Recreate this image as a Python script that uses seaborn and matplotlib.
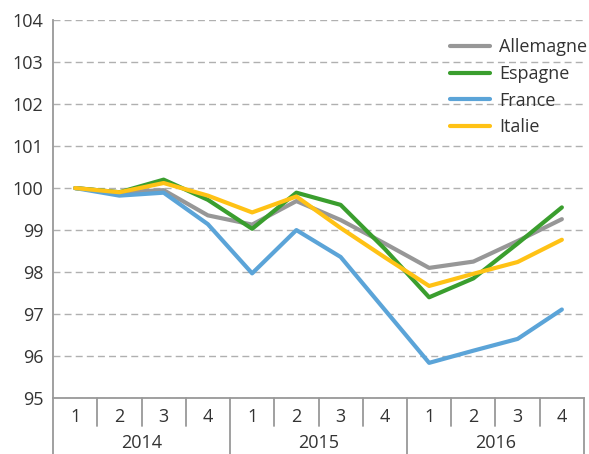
import pandas as pd
import matplotlib
matplotlib.use("Agg")
import matplotlib.pyplot as plt
import matplotlib.transforms as mtransforms
import seaborn as sns

# données (indice 100 = 2014T1)
years = ["2014", "2015", "2016"]
quarters = ["1", "2", "3", "4"]
allemagne = [100.0, 99.9, 99.95, 99.35, 99.13, 99.69, 99.24, 98.68, 98.1, 98.25, 98.74, 99.26]
espagne = [100.0, 99.9, 100.2, 99.72, 99.03, 99.89, 99.6, 98.55, 97.4, 97.85, 98.68, 99.54]
france = [100.0, 99.82, 99.89, 99.14, 97.97, 99.0, 98.36, 97.1, 95.84, 96.13, 96.41, 97.11]
italie = [100.0, 99.9, 100.12, 99.82, 99.42, 99.8, 99.05, 98.35, 97.67, 97.96, 98.24, 98.77]

series = {"Allemagne": allemagne, "Espagne": espagne, "France": france, "Italie": italie}
palette = {"Allemagne": "#979797", "Espagne": "#3a9e2e", "France": "#5ba4d8", "Italie": "#ffc215"}

n = len(years) * len(quarters)
rows = []
for name, vals in series.items():
    for i, v in enumerate(vals):
        rows.append({"pos": i, "valeur": v, "pays": name})
df = pd.DataFrame(rows)

sns.set_style("white")
plt.rcParams["font.family"] = ["Open Sans", "DejaVu Sans"]

fig = plt.figure(figsize=(5.89, 4.54), dpi=100)
ax = fig.add_axes([0.090, 0.123, 0.9015, 0.833])

sns.lineplot(data=df, x="pos", y="valeur", hue="pays", palette=palette,
             linewidth=3, ax=ax, legend=True)

ax.set_xlim(-0.5, n - 0.5)
ax.set_ylim(95, 104)
ax.set_yticks(range(95, 105))
ax.yaxis.grid(True, linestyle=(0, (5, 3)), color="#b0b0b0", linewidth=1)
ax.set_axisbelow(True)
ax.tick_params(axis="y", labelsize=13, colors="#333333", length=4, color="#999999", pad=3)
ax.set_xticks([])
ax.set_xlabel("")
ax.set_ylabel("")

for s in ["top", "right"]:
    ax.spines[s].set_visible(False)
for s in ["left", "bottom"]:
    ax.spines[s].set_color("#999999")
    ax.spines[s].set_linewidth(1.3)

# axe des catégories à deux niveaux
trans = mtransforms.blended_transform_factory(ax.transData, ax.transAxes)
for b in range(n + 1):
    x = b - 0.5
    y_end = -0.148 if b % len(quarters) == 0 else -0.074
    ax.plot([x, x], [0, y_end], transform=trans, color="#999999", lw=1.3, clip_on=False)
for i in range(n):
    ax.text(i, -0.05, quarters[i % len(quarters)], transform=trans, ha="center", va="center",
            fontsize=13, color="#333333")
for j, yr in enumerate(years):
    xc = j * len(quarters) + (len(quarters) - 1) / 2
    ax.text(xc, -0.119, yr, transform=trans, ha="center", va="center",
            fontsize=13, color="#333333")

leg = ax.legend(loc="upper right", bbox_to_anchor=(1.03, 0.985), frameon=False, fontsize=13,
                handlelength=2.2, handletextpad=0.5, labelspacing=0.48, borderaxespad=0.3)
for t in leg.get_texts():
    t.set_color("#333333")

fig.savefig("out.png", dpi=100)
